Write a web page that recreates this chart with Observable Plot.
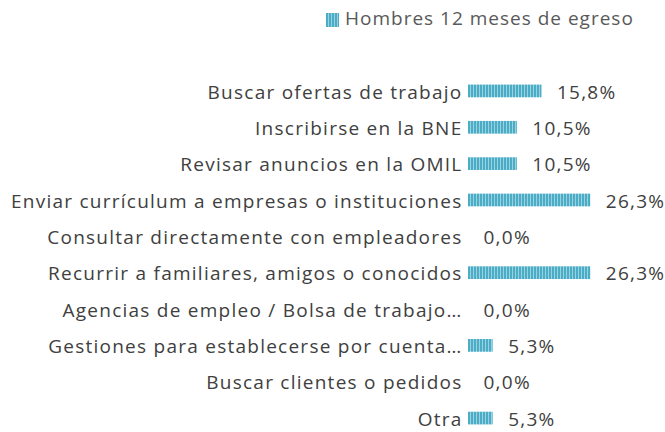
<!DOCTYPE html>
<html>
<head>
<meta charset="utf-8">
<script src="https://cdn.jsdelivr.net/npm/d3@7"></script>
<script src="https://cdn.jsdelivr.net/npm/@observablehq/plot@0.6"></script>
<style>
  body { margin: 0; background: #fff; font-family: "Open Sans", sans-serif; overflow: hidden; }
  #legend { height: 40px; position: relative; overflow: hidden; }
  #legend .sw { position: absolute; left: 326px; top: 13px; width: 13px; height: 14px; }
  #legend .lt { position: absolute; left: 345px; top: 5px; font-size: 19px; letter-spacing: 1px; color: #595959; white-space: nowrap; }
  #chart svg { display: block; }
</style>
</head>
<body>
<div id="legend"><svg class="sw" width="13" height="14"><defs><pattern id="lgp" width="3" height="14" patternUnits="userSpaceOnUse"><rect width="3" height="14" fill="#4bacc6"/><rect x="2" width="1" height="14" fill="#9ad2e1"/></pattern></defs><rect width="13" height="14" fill="url(#lgp)"/></svg><span class="lt">Hombres 12 meses de egreso</span></div>
<div id="chart"></div>
<script>
const categories = [
  "Buscar ofertas de trabajo",
  "Inscribirse en la BNE",
  "Revisar anuncios en la OMIL",
  "Enviar currículum a empresas o instituciones",
  "Consultar directamente con empleadores",
  "Recurrir a familiares, amigos o conocidos",
  "Agencias de empleo / Bolsa de trabajo…",
  "Gestiones para establecerse por cuenta…",
  "Buscar clientes o pedidos",
  "Otra"
];
const values = [15.8, 10.5, 10.5, 26.3, 0.0, 26.3, 0.0, 5.3, 0.0, 5.3];
const data = categories.map((c, i) => ({category: c, value: values[i]}));
const fmt = v => v.toFixed(1).replace(".", ",") + "%";

const chart = Plot.plot({
  width: 665,
  height: 392,
  marginLeft: 468,
  marginRight: 57.5,
  marginTop: 37.3,
  marginBottom: 0.3,
  style: {fontFamily: "Open Sans, sans-serif", fontSize: "19px", color: "#404040", background: "#fff", letterSpacing: "1.25px"},
  x: {domain: [0, 30], axis: null},
  y: {domain: categories, paddingInner: 0.65, paddingOuter: 0.2, round: false, label: null},
  marks: [
    Plot.barX(data, {x: "value", y: "category", fill: "url(#stripes)"}),
    Plot.text(data, {x: "value", y: "category", text: d => fmt(d.value), textAnchor: "start", dx: 15, dy: 1, fill: "#404040", fontSize: 19}),
    Plot.axisY({tickSize: 0, tickPadding: 6, fill: "#404040", fontSize: 19, dy: 1, label: null})
  ]
});
const ns = "http://www.w3.org/2000/svg";
const defs = document.createElementNS(ns, "defs");
defs.innerHTML = '<pattern id="stripes" width="3" height="20" patternUnits="userSpaceOnUse"><rect width="3" height="20" fill="#4bacc6"/><rect x="2" width="1" height="20" fill="#9ad2e1"/></pattern>';
chart.insertBefore(defs, chart.firstChild);
document.getElementById("chart").appendChild(chart);
</script>
</body>
</html>
